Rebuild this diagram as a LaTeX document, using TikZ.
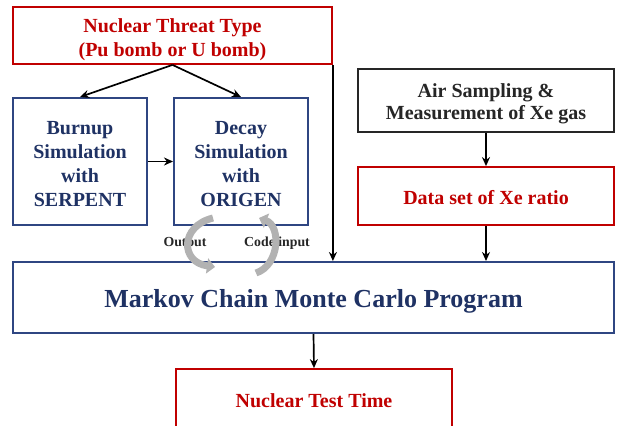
\documentclass[tikz,border=0pt]{standalone}
\usepackage{fontspec}
\setmainfont{Liberation Serif}
\usetikzlibrary{arrows.meta}
\definecolor{dred}{RGB}{192,0,0}
\definecolor{nborder}{RGB}{47,70,130}
\definecolor{ntext}{RGB}{31,50,100}
\tikzset{
  redbox/.style={draw=dred, line width=1.8pt, inner sep=0pt},
  bluebox/.style={draw=nborder, line width=2pt, inner sep=0pt},
  blackbox/.style={draw=black!85, line width=2pt, inner sep=0pt},
  redtxt/.style={text=dred, font=\fontsize{20}{24}\selectfont\bfseries, align=center, inner sep=0pt},
  bluetxt/.style={text=ntext, font=\fontsize{20}{24}\selectfont\bfseries, align=center, inner sep=0pt},
  blacktxt/.style={text=black!85, font=\fontsize{20}{21.5}\selectfont\bfseries, align=center, inner sep=0pt},
  conn/.style={line width=1.7pt, -{Stealth[length=9pt,width=8pt]}},
  cyc/.style={line width=7pt, draw=gray!60, -{Triangle[length=8pt,width=15pt]}},
  small/.style={font=\fontsize{13.8}{16}\selectfont\bfseries, text=black!85, inner sep=0pt}
}
\begin{document}
\begin{tikzpicture}[x=1pt,y=-1pt]
\useasboundingbox (0,0) rectangle (617,425);
\clip (0,0) rectangle (617,425);
\fill[white] (0,0) rectangle (617,425);

\node[redbox, minimum width=319pt, minimum height=57pt] (threat) at (172.5,35.5) {};
\node[redtxt] (threatT) at ([yshift=-4pt]threat.center) {Nuclear Threat Type\\(Pu bomb or U bomb)};
\node[bluebox, minimum width=134pt, minimum height=127pt] (burnup) at (80,161.5) {};
\node[bluetxt] (burnupT) at ([yshift=-2.5pt]burnup.center) {Burnup\\Simulation\\with\\SERPENT};
\node[bluebox, minimum width=134pt, minimum height=127pt] (decay) at (241,161.5) {};
\node[bluetxt] (decayT) at ([yshift=-2.5pt]decay.center) {Decay\\Simulation\\with\\ORIGEN};
\node[blackbox, minimum width=256pt, minimum height=62pt] (air) at (486,100.5) {};
\node[blacktxt] (airT) at ([yshift=-3.5pt]air.center) {Air Sampling \&\\Measurement of Xe gas};
\node[redbox, minimum width=256pt, minimum height=58pt] (data) at (486,196) {};
\node[redtxt] (dataT) at ([yshift=-2pt]data.center) {Data set of Xe ratio};
\node[bluebox, minimum width=601pt, minimum height=71pt] (mcmc) at (313.5,297.5) {};
\node[bluetxt, font=\fontsize{26}{30}\selectfont\bfseries] (mcmcT) at ([yshift=-3.5pt]mcmc.center) {Markov Chain Monte Carlo Program};
\node[redbox, minimum width=276pt, minimum height=64pt] (ntt) at (314,401) {};
\node[redtxt] (nttT) at ([yshift=0pt]ntt.center) {Nuclear Test Time};

\node[small] (outl) at (185,243) {Output};
\node[small] (codel) at (277,243) {Code input};

\draw[conn] (threat.south) -- (burnup.north);
\draw[conn] (threat.south) -- (decay.north);
\draw[conn] (burnup.east) -- (decay.west);
\draw[conn] (threat.south east) -- (threat.south east |- mcmc.north);
\draw[conn] (air.south) -- (data.north);
\draw[conn] (data.south) -- (data.south |- mcmc.north);
\draw[conn] (mcmc.south) -- (ntt.north);

\coordinate (o1) at (213,218);
\coordinate (o2) at (215,267);
\coordinate (c1) at (256,273);
\coordinate (c2) at (259,218);
\draw[cyc] (o1) .. controls (180,226) and (180,262) .. (o2);
\draw[cyc] (c1) .. controls (280,265) and (281,226) .. (c2);
\end{tikzpicture}
\end{document}
